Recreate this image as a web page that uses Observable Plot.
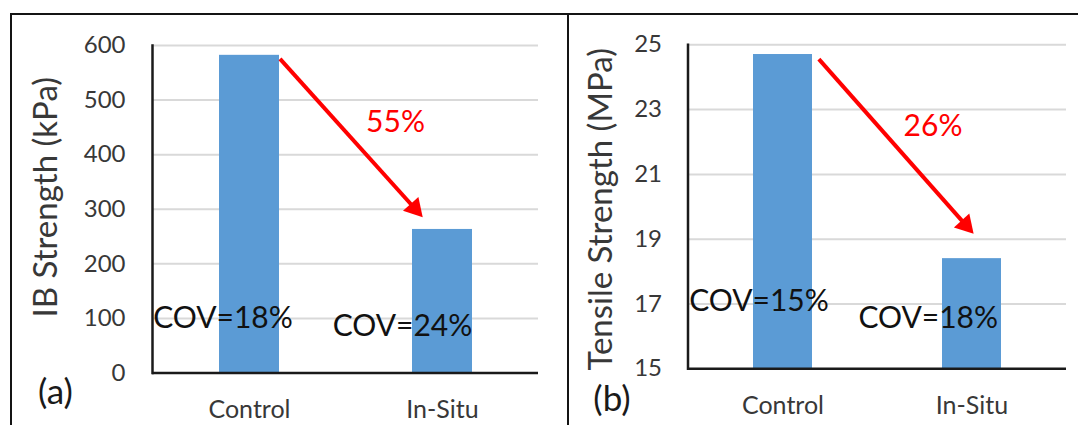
<!DOCTYPE html>
<html><head><meta charset="utf-8">
<script src="https://cdn.jsdelivr.net/npm/d3@7"></script>
<script src="https://cdn.jsdelivr.net/npm/@observablehq/plot@0.6"></script>
<style>
body{margin:0;background:#fff;}
#wrap{position:relative;width:1078px;height:425px;overflow:hidden;font-family:Lato,sans-serif;}
.panel{position:absolute;top:0;}
.line{position:absolute;background:#141414;}
</style></head><body>
<div id="wrap">
 <div id="a" class="panel" style="left:0"></div>
 <div id="b" class="panel" style="left:567px"></div>
 <div class="line" style="left:10px;top:13px;width:1068px;height:2px"></div>
 <div class="line" style="left:10px;top:13px;width:2px;height:412px"></div>
 <div class="line" style="left:567px;top:13px;width:2px;height:412px"></div>
</div>
<script>
const categories = ["Control", "In-Situ"];
const ibStrength = [582, 263];
const tensileStrength = [24.7, 18.4];
const ibCov = ["COV=18%", "COV=24%"];
const tensileCov = ["COV=15%", "COV=18%"];
const ibTicks = [0, 100, 200, 300, 400, 500, 600];
const tensileTicks = [15, 17, 19, 21, 23, 25];
const ibDrop = "55%";
const tensileDrop = "26%";

const BLUE = "#5b9bd5", GRID = "#d9d9d9", AXIS = "#1a1a1a", LABEL = "#383838", RED = "#ff0000";

function panel(cfg) {
  const data = categories.map((c, i) => ({cat: c, v: cfg.values[i]}));
  const base = cfg.domain[0];
  return Plot.plot({
    width: cfg.width, height: 425,
    marginLeft: cfg.m[0], marginRight: cfg.m[1], marginTop: cfg.m[2], marginBottom: cfg.m[3],
    style: {fontFamily: "Lato, sans-serif", background: "transparent", overflow: "visible"},
    x: {domain: categories, paddingInner: 0.69, paddingOuter: 0.345, axis: null},
    y: {domain: cfg.domain, axis: null},
    marks: [
      Plot.ruleY(cfg.ticks.filter(t => t !== base), {stroke: GRID, strokeWidth: 2}),
      Plot.barY(data, {x: "cat", y1: base, y2: "v", fill: BLUE}),
      Plot.ruleY([base], {stroke: AXIS, strokeWidth: 2.5}),
      Plot.frame({anchor: "left", stroke: AXIS, strokeWidth: 2.5}),
      Plot.text(cfg.ticks, {y: d => d, frameAnchor: "left", dx: -cfg.tickPad, textAnchor: "end", lineAnchor: "middle", fontSize: 24, fill: LABEL}),
      Plot.text(categories, {x: d => d, frameAnchor: "bottom", dy: 27, textAnchor: "middle", lineAnchor: "top", fontSize: 25, fill: LABEL}),
      Plot.text([cfg.title], {frameAnchor: "left", rotate: -90, dx: cfg.titleD[0], dy: cfg.titleD[1], textAnchor: "middle", lineAnchor: "middle", fontSize: 33, fill: LABEL}),
      Plot.text([cfg.tag], {frameAnchor: "bottom-left", dx: cfg.tagD[0], dy: cfg.tagD[1], textAnchor: "middle", lineAnchor: "middle", fontSize: 35, fill: AXIS}),
      Plot.text([{c: categories[0], t: cfg.covs[0]}], {x: "c", y: cfg.covA.y, text: "t", dx: cfg.covA.dx, lineAnchor: "middle", fontSize: 30, fill: "#111"}),
      Plot.text([{c: categories[1], t: cfg.covs[1]}], {x: "c", y: cfg.covB.y, text: "t", dx: cfg.covB.dx, lineAnchor: "middle", fontSize: 30, fill: "#111"}),
      Plot.arrow([cfg.arrow], {x1: "x1", y1: "y1", x2: "x2", y2: "y2", bend: 0, headLength: 0, insetStart: cfg.arrow.is, insetEnd: cfg.arrow.ie, stroke: RED, strokeWidth: 4, strokeLinecap: "butt"}),
      Plot.dot([cfg.head], {x: "x", y: "y", dx: cfg.head.dx, symbol: "triangle", r: 7.7, rotate: 138, fill: RED, stroke: "none"}),
      Plot.text([{c: categories[1], t: cfg.drop}], {x: "c", y: cfg.dropPos.y, text: "t", dx: cfg.dropPos.dx, lineAnchor: "middle", fontSize: 30, fill: RED})
    ]
  });
}

document.getElementById("a").append(panel({
  width: 567, m: [152, 29, 45, 52.5], values: ibStrength, domain: [0, 600], ticks: ibTicks, tickPad: 27,
  title: "IB Strength (kPa)", titleD: [-106, -12], tag: "(a)", tagD: [-97, 20],
  covs: ibCov, covA: {y: 100, dx: -26.5}, covB: {y: 85, dx: -40},
  arrow: {x1: "Control", y1: 637.6, x2: "In-Situ", y2: 245.1, is: 45.6, ie: 41},
  head: {x: "In-Situ", y: 301.7, dx: -27.8},
  drop: ibDrop, dropPos: {y: 459, dx: -47}
}));

document.getElementById("b").append(panel({
  width: 511, m: [120.5, 12, 44.3, 56.7], values: tensileStrength, domain: [15, 25], ticks: tensileTicks, tickPad: 26,
  title: "Tensile Strength (MPa)", titleD: [-86.5, 2.5], tag: "(b)", tagD: [-76, 31],
  covs: tensileCov, covA: {y: 17.08, dx: -24}, covB: {y: 16.55, dx: -43.8},
  arrow: {x1: "Control", y1: 25.81, x2: "In-Situ", y2: 19.22, is: 54.1, ie: 9.6},
  head: {x: "In-Situ", y: 19.44, dx: -6.4},
  drop: tensileDrop, dropPos: {y: 22.48, dx: -39}
}));
</script>
</body></html>
